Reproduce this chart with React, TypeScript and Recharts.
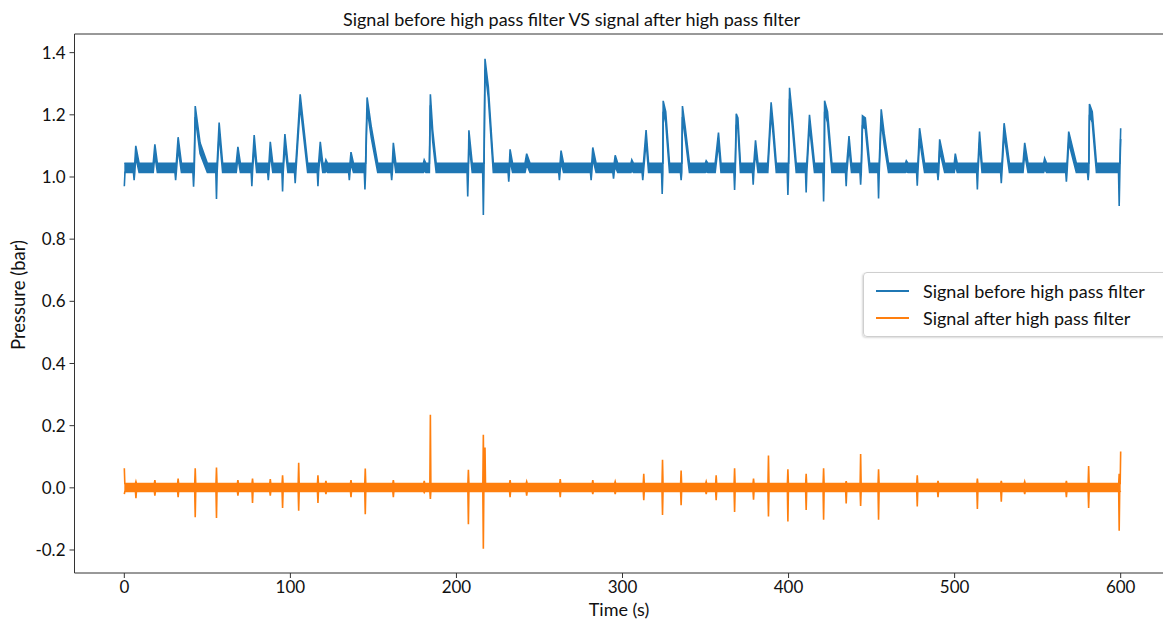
import React from "react";
import { ComposedChart, Area, XAxis, YAxis, Legend, ReferenceLine } from "recharts";

const BLUE = "#1f77b4";
const ORANGE = "#ff7f0e";

// noise band of each signal when nothing happens (bar)
const blueBand = [1.015, 1.044];
const orangeBand = [-0.012, 0.014];

// raw signal: pulses
// time of peak (s), peak (bar), dip just before the rise (bar), rise time (s), decay time (s), value part way down the decay
const blueTimes = [
  0, 6.9, 18.4, 32.4, 42.7, 57.1, 68.4, 78.2, 87.9, 96.7, 105.9, 118, 121.4, 136.5, 146.2, 162, 180.6, 184.3,
  207.5, 217.2, 232.3, 242.3, 263, 282.1, 295.6, 305.6, 314.2, 324.5, 336.1, 350.4, 357.8, 368.5, 380.1,
  389.5, 400.6, 412.6, 421.7, 436.4, 444.5, 455.8, 470.9, 478.9, 491, 500.4, 515, 529.8, 542.2, 554.2,
  568.7, 581.2, 599.1, 600,
];
const bluePeaks = [
  null, 1.1, 1.105, 1.128, 1.228, 1.175, 1.097, 1.135, 1.113, 1.138, 1.266, 1.113, 1.055, 1.08, 1.256, 1.11, 1.055, 1.266,
  1.15, 1.38, 1.089, 1.075, 1.085, 1.095, 1.07, 1.055, 1.151, 1.245, 1.228, 1.052, 1.143, 1.203, 1.118,
  1.24, 1.287, 1.2, 1.245, 1.132, 1.197, 1.218, 1.052, 1.157, 1.121, 1.075, 1.146, 1.173, 1.11, 1.06,
  1.146, 1.235, null, 1.157,
];
const blueDips = [
  0.97, 0.99, null, 0.99, 0.969, 0.929, null, 0.97, 0.99, 0.953, 0.98, 0.97, null, 0.99, 0.96, 0.99, null, null,
  0.937, 0.878, 0.985, null, 0.99, 0.99, 0.995, null, 0.99, 0.945, 0.99, null, null, 0.958, 0.975,
  null, 0.942, 0.95, 0.921, 0.97, 0.975, 0.931, null, 0.972, 0.99, null, 0.96, 0.98, null, null,
  0.985, 0.99, 0.907, null,
];
const blueRise = [
  0, 1, 1, 1.5, 1, 1.6, 1, 1.4, 1.2, 1.4, 3, 1.4, 0.5, 1, 1.3, 1, 0.5, 0.6,
  0.7, 1, 0.8, 1, 1, 1, 1, 0.5, 2, 0.6, 0.8, 0.5, 2, 1, 1.4,
  2, 1, 2, 0.6, 1.7, 1.1, 1.6, 0.5, 1.4, 1, 0.6, 1.3, 1.7, 1, 0.6,
  1.4, 0.8, 0, 0.5,
];
const blueFall = [
  0, 2, 1.5, 2, 7.3, 2.1, 1.5, 1.5, 1.5, 1.8, 4.5, 1.5, 1, 1.5, 6.4, 1.5, 1, 3.5,
  2, 5, 1.5, 2, 1.5, 2, 1.5, 1, 1.5, 3.8, 4.2, 1, 1.5, 2.5, 1.5,
  3.1, 4, 3, 4.4, 1.5, 4.3, 4.4, 1, 3, 3, 1.2, 1.5, 3.2, 2, 1.2,
  4.6, 4.2, 0, 0,
];
const blueShoulder = [
  null, null, null, null, 1.11, null, null, null, null, null, null, null, null, null, 1.16, null, null, 1.15,
  null, 1.29, null, null, null, null, null, null, null, 1.21, 1.16, null, null, 1.19, null,
  1.17, 1.2, null, 1.21, null, 1.19, 1.14, null, null, null, null, null, null, null, null,
  null, 1.21, null, null,
];

// filtered signal: spikes
const orangeTimes = [
  0, 7, 18.4, 32.4, 42.7, 55.5, 68.4, 77.2, 87.9, 95.3, 105, 116.6, 121.4, 136.5, 145.1, 162, 180.6, 184.3,
  207.2, 216.2, 217.2, 232.3, 242.3, 262.5, 282.1, 295.6, 312.8, 324.1, 335.3, 350.4, 356.4, 367.5, 378.9,
  387.9, 399.6, 410.6, 421.1, 434.7, 443.4, 454.2, 477.5, 490, 513.7, 528.1, 542.2, 567.3, 580.7, 599.1, 600,
];
const orangeUp = [
  0.063, 0.02, 0.025, 0.03, 0.063, 0.065, 0.025, 0.03, 0.028, 0.04, 0.081, 0.04, 0.022, 0.025, 0.062, 0.025, 0.022, 0.235,
  0.058, 0.171, 0.13, 0.025, 0.02, 0.028, 0.025, 0.02, 0.045, 0.09, 0.056, 0.02, 0.04, 0.063, 0.03,
  0.104, 0.06, 0.045, 0.063, 0.021, 0.109, 0.06, 0.04, 0.022, 0.03, 0.022, 0.02, 0.022, 0.07, 0.045, 0.117,
];
const orangeDown = [
  -0.02, -0.033, -0.025, -0.03, -0.095, -0.097, -0.025, -0.049, -0.025, -0.065, -0.074, -0.049, -0.02, -0.03, -0.085, -0.03, -0.015, -0.036,
  -0.117, -0.196, -0.01, -0.03, -0.025, -0.03, -0.02, -0.02, -0.04, -0.087, -0.056, -0.02, -0.04, -0.078, -0.038,
  -0.092, -0.108, -0.071, -0.103, -0.05, -0.058, -0.103, -0.06, -0.03, -0.068, -0.045, -0.02, -0.03, -0.065, -0.138, -0.01,
];

const seriesNames = ["Signal before high pass filter", "Signal after high pass filter"];
const xTicks = [0, 100, 200, 300, 400, 500, 600];
const yTicks = [-0.2, 0, 0.2, 0.4, 0.6, 0.8, 1.0, 1.2, 1.4];
const Y_TOP = 1.46;

type Pt = { t: number; v: [number, number] };

const tidy = (pts: Pt[]) => pts.filter((p) => p.t >= 0 && p.t <= 600).sort((a, b) => a.t - b.t);

const buildBlue = (): Pt[] => {
  const [lo, hi] = blueBand;
  const pts: Pt[] = [];
  blueTimes.forEach((t, i) => {
    const start = t - blueRise[i];
    const dip = blueDips[i];
    if (dip !== null) {
      pts.push({ t: start - 0.4, v: [lo, hi] });
      pts.push({ t: start, v: [dip, hi] });
      pts.push({ t: start + 0.4, v: [lo, hi] });
    } else {
      pts.push({ t: start, v: [lo, hi] });
    }
    const peak = bluePeaks[i];
    if (peak === null) return;
    pts.push({ t, v: [peak - 0.035, peak] });
    const sh = blueShoulder[i];
    if (sh !== null) pts.push({ t: t + blueFall[i] * 0.4, v: [sh - 0.035, sh] });
    if (blueFall[i] > 0) pts.push({ t: t + blueFall[i], v: [lo, hi] });
  });
  return tidy(pts);
};

const buildOrange = (): Pt[] => {
  const [lo, hi] = orangeBand;
  const pts: Pt[] = [];
  orangeTimes.forEach((t, i) => {
    pts.push({ t: t - 0.3, v: [lo, hi] });
    pts.push({ t, v: [orangeDown[i], orangeUp[i]] });
    pts.push({ t: t + 0.3, v: [lo, hi] });
  });
  return tidy(pts);
};

const blueData = buildBlue();
const orangeData = buildOrange();

const FONT = "Lato, 'Open Sans', sans-serif";
const AXIS = "#333";

const renderLegend = (props: any) => {
  const payload = [...(props.payload || [])].sort(
    (a: any, b: any) => seriesNames.indexOf(a.value) - seriesNames.indexOf(b.value)
  );
  return (
    <div
      style={{
        border: "1px solid #cfcfcf",
        borderRadius: 4,
        background: "rgba(255,255,255,0.9)",
        boxShadow: "-1px 1px 2px rgba(0,0,0,0.15)",
        padding: "4px 0 5px 12px",
        width: 310,
        fontFamily: FONT,
      }}
    >
      {payload.map((entry: any, index: number) => (
        <div key={`item-${index}`} style={{ display: "flex", alignItems: "center", height: 27 }}>
          <div style={{ width: 33, height: 2, background: entry.color, marginRight: 14 }} />
          <span style={{ fontSize: 18, color: "#111" }}>{entry.value}</span>
        </div>
      ))}
    </div>
  );
};

const App: React.FC = () => {
  return (
    <div
      style={{
        position: "absolute",
        left: 0,
        top: 0,
        width: 1163,
        height: 620,
        overflow: "hidden",
        background: "#fff",
        fontFamily: FONT,
      }}
    >
      <div
        style={{
          position: "absolute",
          left: 0,
          width: 1143,
          top: 8,
          textAlign: "center",
          fontSize: 18,
          lineHeight: "22px",
          color: "#111",
        }}
      >
        Signal before high pass filter VS signal after high pass filter
      </div>
      <div
        style={{
          position: "absolute",
          left: 18,
          top: 295,
          transform: "translate(-50%, -50%) rotate(-90deg)",
          fontSize: 18.5,
          whiteSpace: "nowrap",
          color: "#111",
        }}
      >
        Pressure (bar)
      </div>
      <div
        style={{
          position: "absolute",
          left: 0,
          width: 1238,
          top: 598,
          textAlign: "center",
          fontSize: 18,
          lineHeight: "22px",
          color: "#111",
        }}
      >
        Time (s)
      </div>
      <div style={{ position: "absolute", left: 0, top: 0 }}>
        <ComposedChart width={1173} height={620} margin={{ top: 34, right: 2.5, bottom: 0, left: 0 }}>
          <XAxis
            dataKey="t"
            type="number"
            domain={[-30, 630]}
            ticks={xTicks}
            allowDataOverflow
            height={47}
            stroke={AXIS}
            tickSize={5}
            tickMargin={3}
            tick={{ fontSize: 17, fill: "#111" }}
          />
          <YAxis
            type="number"
            domain={[-0.274, Y_TOP]}
            ticks={yTicks}
            allowDataOverflow
            width={74.5}
            stroke={AXIS}
            tickSize={5}
            tickMargin={4}
            tickFormatter={(v: number) => v.toFixed(1)}
            tick={{ fontSize: 17, fill: "#111" }}
          />
          <ReferenceLine y={Y_TOP} stroke={AXIS} strokeWidth={1} />
          <Area
            data={blueData}
            dataKey="v"
            name={seriesNames[0]}
            type="linear"
            stroke={BLUE}
            strokeWidth={1.6}
            fill={BLUE}
            fillOpacity={1}
            dot={false}
            activeDot={false}
            isAnimationActive={false}
          />
          <Area
            data={orangeData}
            dataKey="v"
            name={seriesNames[1]}
            type="linear"
            stroke={ORANGE}
            strokeWidth={1.6}
            fill={ORANGE}
            fillOpacity={1}
            dot={false}
            activeDot={false}
            isAnimationActive={false}
          />
          <Legend
            layout="vertical"
            align="center"
            verticalAlign="middle"
            content={renderLegend}
            wrapperStyle={{ left: 863, top: 272, width: 320 }}
          />
        </ComposedChart>
      </div>
    </div>
  );
};

export default App;
